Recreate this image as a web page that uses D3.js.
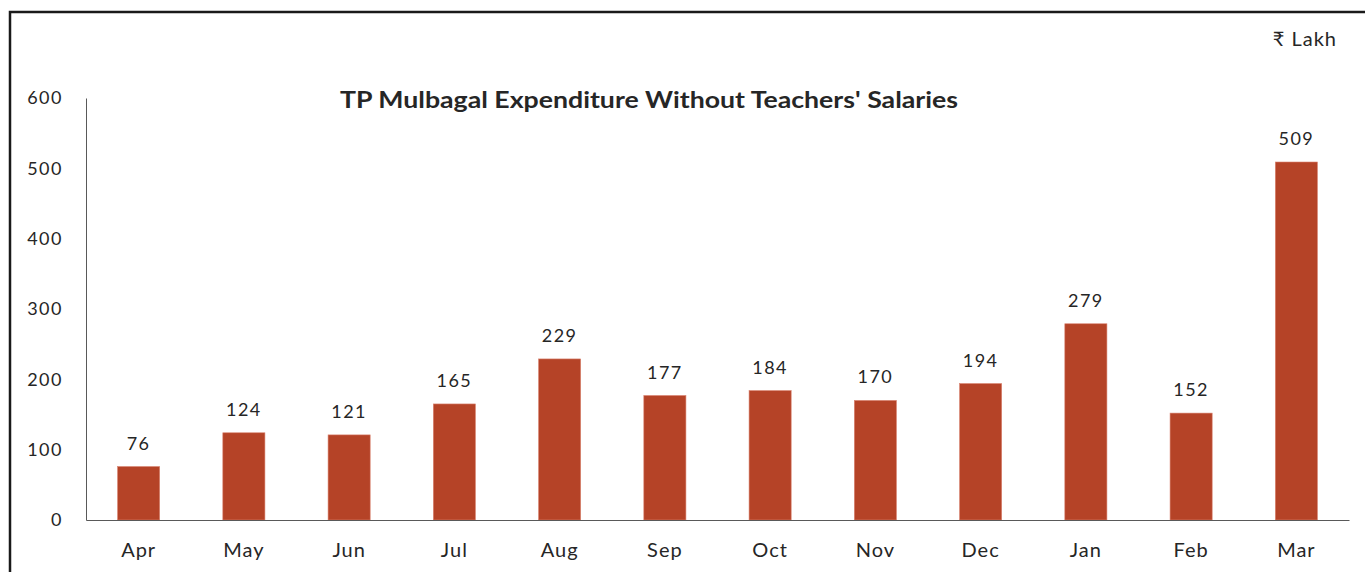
<!DOCTYPE html>
<html>
<head>
<meta charset="utf-8">
<script src="https://cdn.jsdelivr.net/npm/d3@7"></script>
<style>
  body { margin: 0; background: #fff; }
  svg text { font-family: Lato, "Open Sans", sans-serif; fill: #262626; }
</style>
</head>
<body>
<div id="chart"></div>
<script>
const months = ['Apr', 'May', 'Jun', 'Jul', 'Aug', 'Sep', 'Oct', 'Nov', 'Dec', 'Jan', 'Feb', 'Mar'];
const expenditure = [76, 124, 121, 165, 229, 177, 184, 170, 194, 279, 152, 509];
const yTicks = [0, 100, 200, 300, 400, 500, 600];
const title = "TP Mulbagal Expenditure Without Teachers' Salaries";
const unitLabel = '₹ Lakh';

const W = 1365, H = 572;
const margin = {top: 98, right: 16, bottom: 52, left: 86};
const width = W - margin.left - margin.right;
const height = H - margin.top - margin.bottom;

const svg = d3.select('#chart').append('svg')
    .attr('width', W)
    .attr('height', H);

// outer frame (runs off the right and bottom edge)
svg.append('path')
    .attr('d', 'M10,' + (H + 5) + ' V12 H' + (W + 5))
    .attr('fill', 'none')
    .attr('stroke', '#1a1a1a')
    .attr('stroke-width', 2.5);

const g = svg.append('g')
    .attr('transform', 'translate(' + margin.left + ',' + margin.top + ')');

const x = d3.scaleBand()
    .domain(months)
    .range([0, width])
    .paddingInner(0.6)
    .paddingOuter(0.3);

const y = d3.scaleLinear()
    .domain([0, 600])
    .range([height, 0]);

// y axis
const yAxis = g.append('g')
    .call(d3.axisLeft(y).tickValues(yTicks).tickSize(0).tickPadding(23));
yAxis.select('.domain').attr('stroke', '#595959').attr('stroke-width', 1);
yAxis.selectAll('text')
    .style('font-size', '18px')
    .style('letter-spacing', '1.5px')
    .style('font-family', 'Lato, sans-serif')
    .attr('fill', '#262626');

// bars
g.selectAll('.bar')
    .data(expenditure)
    .enter()
    .append('rect')
    .attr('class', 'bar')
    .attr('x', (d, i) => x(months[i]))
    .attr('y', d => y(d))
    .attr('width', x.bandwidth())
    .attr('height', d => height - y(d))
    .attr('fill', '#b54327')
    .attr('stroke', '#d9826f')
    .attr('stroke-width', 0.6);

// x axis
const xAxis = g.append('g')
    .attr('transform', 'translate(0,' + height + ')')
    .call(d3.axisBottom(x).tickSize(0).tickPadding(23));
xAxis.select('.domain').attr('stroke', '#595959').attr('stroke-width', 1.2);
xAxis.selectAll('text')
    .style('font-size', '20px')
    .style('letter-spacing', '1px')
    .style('font-family', 'Lato, sans-serif')
    .attr('fill', '#262626');

// value labels
g.selectAll('.val')
    .data(expenditure)
    .enter()
    .append('text')
    .attr('class', 'val')
    .attr('x', (d, i) => x(months[i]) + x.bandwidth() / 2)
    .attr('y', d => y(d) - 17)
    .attr('text-anchor', 'middle')
    .style('font-size', '18px')
    .style('letter-spacing', '1.5px')
    .text(d => d);

// title
svg.append('text')
    .attr('x', 649)
    .attr('y', 108)
    .attr('text-anchor', 'middle')
    .style('font-size', '23px')
    .style('font-weight', 'bold')
    .attr('textLength', 618)
    .attr('lengthAdjust', 'spacingAndGlyphs')
    .text(title);

// unit
svg.append('text')
    .attr('x', 1337)
    .attr('y', 46)
    .attr('text-anchor', 'end')
    .style('font-size', '20px')
    .style('letter-spacing', '1px')
    .text(unitLabel);
</script>
</body>
</html>
